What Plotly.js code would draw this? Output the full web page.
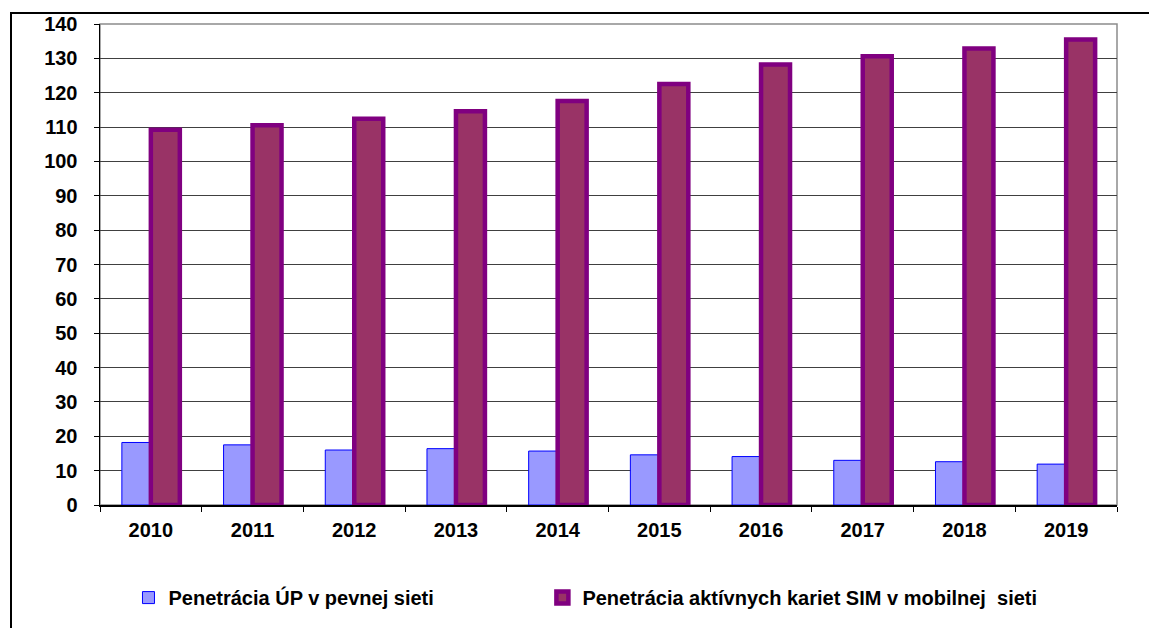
<!DOCTYPE html>
<html>
<head>
<meta charset="utf-8">
<script src="https://cdn.plot.ly/plotly-3.0.1.min.js"></script>
<style>
  html, body { margin: 0; padding: 0; background: #fff; }
  #wrap { position: relative; width: 1149px; height: 628px; overflow: hidden; }
  #chart { position: absolute; left: 0; top: 0; width: 1149px; height: 628px; }
  #frame { position: absolute; left: 10px; top: 12px; width: 1200px; height: 700px;
           border-left: 2px solid #000; border-top: 2px solid #000; pointer-events: none; }
</style>
</head>
<body>
<div id="wrap">
  <div id="chart"></div>
  <div id="frame"></div>
</div>
<script>
const years = ['2010','2011','2012','2013','2014','2015','2016','2017','2018','2019'];
const fixedName = 'Penetrácia ÚP v pevnej sieti';
const mobileName = 'Penetrácia aktívnych kariet SIM v mobilnej  sieti';
const fixedValues = [18.2, 17.5, 16.0, 16.4, 15.7, 14.6, 14.1, 13.0, 12.6, 11.9];
const mobileValues = [109.2, 110.5, 112.4, 114.6, 117.6, 122.5, 128.2, 130.6, 132.9, 135.5];
const yTicks = [0,10,20,30,40,50,60,70,80,90,100,110,120,130,140];

const fam = '"Liberation Sans", Arial, sans-serif';
const font = {family: fam, size: 19, color: '#000'};
const legendFont = {family: fam, size: 20, color: '#000', weight: 'bold'};

const traces = [
  {
    type: 'bar', name: fixedName, x: years, y: fixedValues, legend: 'legend',
    marker: {color: '#9999FF', line: {color: '#0000FF', width: 1}},
    hoverinfo: 'x+y'
  },
  {
    type: 'bar', name: mobileName, x: years, y: mobileValues, legend: 'legend2',
    marker: {color: '#993366', line: {color: '#800080', width: 4.5}},
    hoverinfo: 'x+y'
  }
];

const layout = {
  width: 1149, height: 628,
  margin: {l: 100, r: 32, t: 24, b: 122},
  paper_bgcolor: '#fff', plot_bgcolor: '#fff',
  font: font,
  barmode: 'group', bargap: 0.43, bargroupgap: 0,
  showlegend: true,
  legend: {
    orientation: 'h', x: 0.028, xanchor: 'left', y: -0.19, yanchor: 'middle',
    font: legendFont, itemwidth: 30, bgcolor: 'rgba(0,0,0,0)'
  },
  legend2: {
    orientation: 'h', x: 0.435, xanchor: 'left', y: -0.19, yanchor: 'middle',
    font: legendFont, itemwidth: 30, bgcolor: 'rgba(0,0,0,0)'
  },
  xaxis: {
    type: 'category', tickson: 'boundaries', ticks: 'outside', ticklen: 5,
    tickcolor: '#000', tickwidth: 1,
    showline: true, linecolor: '#000', linewidth: 1.5,
    showgrid: false, zeroline: false,
    tickfont: {family: fam, size: 20, color: '#000', weight: 'bold'},
    ticklabelstandoff: 6,
    fixedrange: true
  },
  yaxis: {
    range: [0, 140], tickmode: 'array', tickvals: yTicks, ticktext: yTicks.map(String),
    ticks: 'outside', ticklen: 5, tickcolor: '#000', tickwidth: 1,
    showline: true, linecolor: '#000', linewidth: 1.5,
    showgrid: true, gridcolor: '#404040', gridwidth: 1,
    zeroline: false,
    tickfont: {family: fam, size: 20, color: '#000', weight: 'bold'},
    ticklabelstandoff: 12,
    fixedrange: true
  },
  shapes: [
    {type: 'rect', xref: 'paper', yref: 'paper', x0: 0, x1: 1, y0: 0, y1: 1,
     line: {color: '#8c8c8c', width: 1.5}, layer: 'below'}
  ]
};

Plotly.newPlot('chart', traces, layout, {displayModeBar: false, staticPlot: true});
</script>
</body>
</html>
